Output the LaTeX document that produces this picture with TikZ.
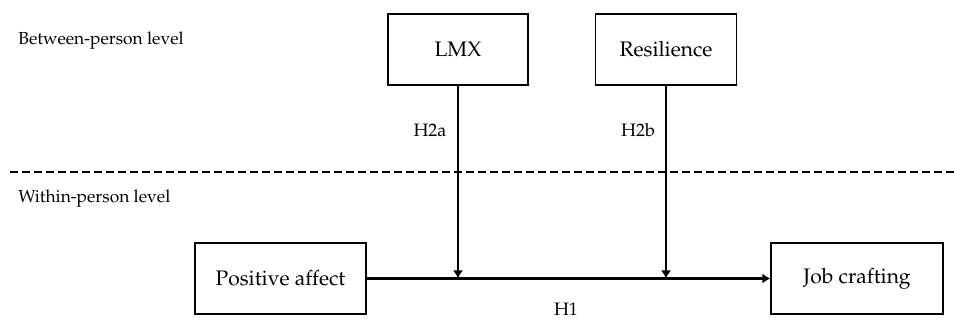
\documentclass[tikz,border=0pt]{standalone}
\usepackage[T1]{fontenc}
\usepackage{mathpazo}
\usepackage{tikz}
\usetikzlibrary{arrows.meta, positioning}
\tikzset{>={Latex[length=4pt, width=5pt]}}
\tikzset{var/.style={draw, line width=0.6pt, minimum height=35.5pt, inner sep=0pt, font=\fontsize{10.5}{12}\selectfont}}
\tikzset{lvl/.style={anchor=west, inner sep=0pt, font=\fontsize{8.7}{10}\selectfont}}
\tikzset{hyp/.style={inner sep=0pt, font=\fontsize{9}{10}\selectfont}}

\begin{document}
\begin{tikzpicture}[x=0.5pt, y=-0.5pt]
\useasboundingbox (0,0) rectangle (954,320);
\node[lvl] (between) at (18, 41) {Between-person level};
\node[lvl] (within) at (18, 199) {Within-person level};
\draw[line width=1.2pt, dash pattern=on 4pt off 2pt] (10, 172) -- (954, 172);
\node[var, minimum width=70pt] (lmx) at (458, 49.5) {LMX};
\node[var, minimum width=70.5pt] (resil) at (666, 49.5) {Resilience};
\node[var, minimum width=85.5pt] (pa) at (280.5, 278.5) {Positive affect};
\node[var, minimum width=86pt] (jc) at (857, 278.5) {Job crafting};
\coordinate (m1) at (lmx.south |- pa.east);
\coordinate (m2) at (resil.south |- pa.east);
\draw[->, line width=1.2pt] (pa) -- (jc);
\draw[->, line width=1.2pt] (lmx) -- (m1);
\draw[->, line width=1.2pt] (resil) -- (m2);
\node[hyp] (h2a) at (430, 130) {H2a};
\node[hyp] (h2b) at (638, 130) {H2b};
\node[hyp] (h1) at (566, 309) {H1};
\end{tikzpicture}
\end{document}
